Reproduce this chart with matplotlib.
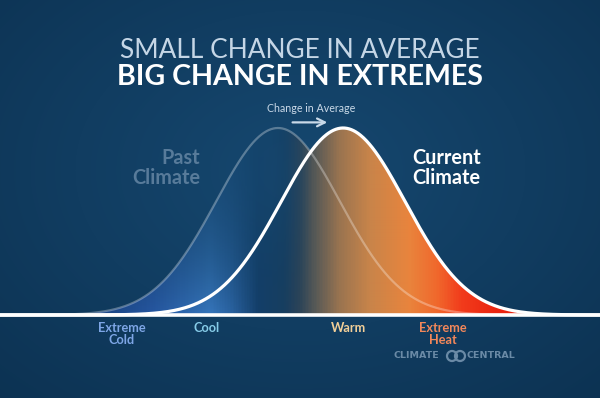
import numpy as np
import matplotlib.pyplot as plt
from matplotlib.colors import LinearSegmentedColormap, to_rgb
from matplotlib.patches import Ellipse, Polygon

# distributions, in units of the past standard deviation
curve_names = ['Past\nClimate', 'Current\nClimate']
means = [0.0, 1.05]
sds = [1.0, 1.0]
peaks = [1.0, 1.0]

zone_labels = ['Extreme\nCold', 'Cool', 'Warm', 'Extreme\nHeat']
zone_pos = [-2.52, -1.15, 1.13, 2.66]
zone_colors = ['#7ea6e6', '#86cbe8', '#f2cf98', '#f2875a']

title_top = 'SMALL CHANGE IN AVERAGE'
title_bottom = 'BIG CHANGE IN EXTREMES'
shift_label = 'Change in Average'

W, H = 600, 398
PX_UNIT = 62.0     # pixels per sd
X0 = 278.0         # pixel of past mean
BASE = 315.0       # pixel row of baseline
PEAK_PX = 187.0

xlim = ((0 - X0) / PX_UNIT, (W - X0) / PX_UNIT)
ylim = (-(H - BASE) / PEAK_PX, BASE / PEAK_PX)


def fpos(x, y):
    return x / W, 1 - y / H


fig = plt.figure(figsize=(6, 3.98), dpi=100)
ax = fig.add_axes([0, 0, 1, 1])
ax.set_xlim(*xlim)
ax.set_ylim(*ylim)
ax.axis('off')

# background glow
yy, xx = np.mgrid[0:H, 0:W]
d = np.sqrt(((xx - 300) / 450.0) ** 2 + ((yy - 170) / 320.0) ** 2)
d = np.clip(d, 0, 1)
c_in = np.array(to_rgb('#164870'))
c_out = np.array(to_rgb('#0c3252'))
bg = c_in[None, None, :] * (1 - d[..., None]) + c_out[None, None, :] * d[..., None]
ax.imshow(bg, extent=(xlim[0], xlim[1], ylim[0], ylim[1]), aspect='auto', zorder=0)

x = np.linspace(xlim[0], xlim[1], 800)
curves = [p * np.exp(-0.5 * ((x - m) / s) ** 2) for m, s, p in zip(means, sds, peaks)]

# gradient fill under the two curves
stops_px = [100, 150, 210, 232, 258, 284, 300, 318, 340, 370, 410, 438, 462, 500]
stop_cols = ['#1a4585', '#2656a0', '#3676bc', '#2a62a0', '#143f6a', '#183e60',
             '#2e4558', '#5e5c56', '#9a7450', '#c8844a', '#e9843d', '#f0682c',
             '#f23c1c', '#ea2410']
pos = [(p - stops_px[0]) / (stops_px[-1] - stops_px[0]) for p in stops_px]
cmap = LinearSegmentedColormap.from_list('temp', list(zip(pos, stop_cols)))
nx, ny = 600, 200
gx = np.linspace(xlim[0], xlim[1], nx)
gpx = gx * PX_UNIT + X0
t = np.clip((gpx - stops_px[0]) / (stops_px[-1] - stops_px[0]), 0, 1)
rgba = np.tile(cmap(t)[None, :, :], (ny, 1, 1))
gy = np.linspace(1.05, 0, ny)
alpha_blue = 0.12 + 0.88 * (1 - gy / 1.05) ** 2.2
blend = np.clip((gpx - 272) / 40.0, 0, 1)
rgba[..., 3] = alpha_blue[:, None] * (1 - blend[None, :]) + blend[None, :]
img = ax.imshow(rgba, extent=(xlim[0], xlim[1], 0, 1.05), aspect='auto', zorder=1)
top = np.maximum(curves[0], curves[1])
poly = Polygon(np.column_stack([np.r_[x, x[::-1]], np.r_[top, np.zeros_like(x)]]),
               closed=True, transform=ax.transData, facecolor='none', edgecolor='none')
ax.add_patch(poly)
img.set_clip_path(poly)

ax.plot(x, curves[0], color='white', alpha=0.3, lw=1.6, zorder=3)
ax.plot(x, curves[1], color='white', lw=2.3, zorder=4)
ax.axhline(0, color='white', lw=2.6, zorder=5)

# shift arrow
ax.annotate('', xy=(means[1] - 0.21, 1.03), xytext=(means[0] + 0.19, 1.03),
            arrowprops=dict(arrowstyle='->', color='#c9d9e8', lw=1.6,
                            mutation_scale=14), zorder=6)
fig.text(*fpos(311, 108), shift_label, color='#c9d9e8', fontsize=7.7,
         family='Lato', ha='center', va='center')

fig.text(*fpos(300, 50), title_top, color='#c5d6e6', fontsize=18.9,
         family='Lato', weight='normal', ha='center', va='center')
fig.text(*fpos(300, 77), title_bottom, color='white', fontsize=20.6,
         family='Lato', weight='bold', ha='center', va='center')

fig.text(*fpos(200, 168), curve_names[0], color='#587b9a', fontsize=14.3,
         family='Lato', weight='bold', ha='right', va='center', linespacing=1.05)
fig.text(*fpos(412, 168), curve_names[1], color='white', fontsize=14.3,
         family='Lato', weight='bold', ha='left', va='center', linespacing=1.05)

for lab, xp, col in zip(zone_labels, zone_pos, zone_colors):
    ax.text(xp, -0.035, lab, color=col, fontsize=9.2, family='Lato', weight='bold',
            ha='center', va='top', linespacing=1.0)

# logo
fig.text(*fpos(394, 356), 'CLIMATE', color='#6a8aa6', fontsize=6.8,
         family='DejaVu Sans', weight='bold', ha='left', va='center')
fig.text(*fpos(515, 356), 'CENTRAL', color='#6a8aa6', fontsize=6.8,
         family='DejaVu Sans', weight='bold', ha='right', va='center')
for cx in (452, 460):
    fig.add_artist(Ellipse(fpos(cx, 356), 10 / W, 10 / H, transform=fig.transFigure,
                           fill=False, edgecolor='#6a8aa6', lw=1.6))

fig.savefig('out.png', dpi=100, facecolor=fig.get_facecolor())
